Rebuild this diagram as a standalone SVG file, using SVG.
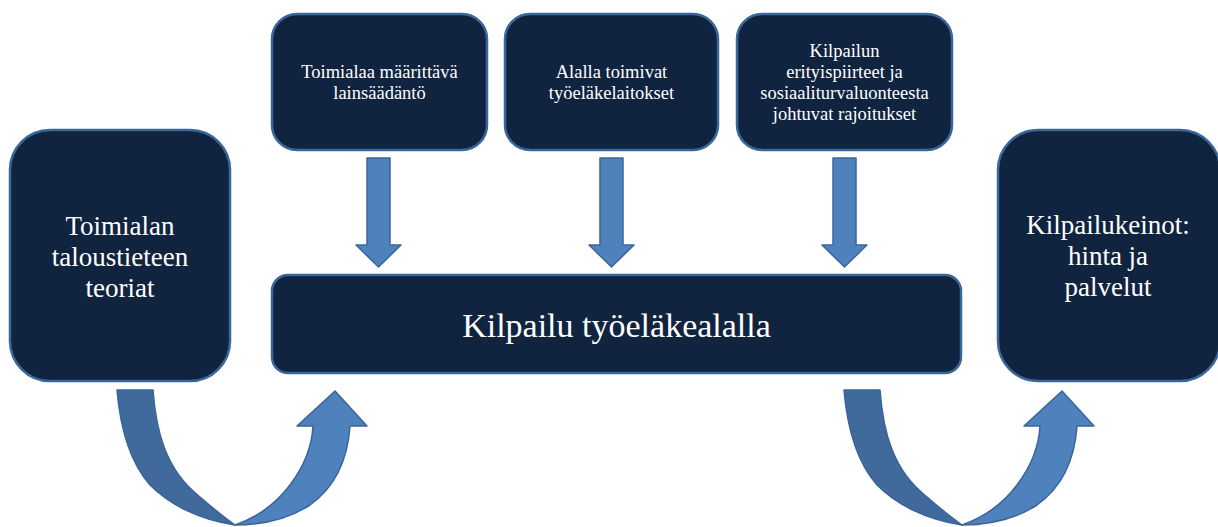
<svg xmlns="http://www.w3.org/2000/svg" width="1218" height="527" viewBox="0 0 1218 527" font-family="'Liberation Serif', serif">
<style>
.box{fill:#10243f;stroke:#3b6699;stroke-width:2.5}
text{font-family:"Liberation Serif",serif;fill:#ffffff;text-anchor:middle}
text.s{font-size:18.5px}
text.l{font-size:27px}
text.m{font-size:34px}
.arr{fill:#4f81bd;stroke:#3a659a;stroke-width:1.5;stroke-linejoin:round}
.dk{fill:#40699c;stroke:#3a659a;stroke-width:1.5;stroke-linejoin:round}
</style>
<defs>
<path id="down" d="M-11.5,0 H11.5 V87 H22.5 L0,109 L-22.5,87 H-11.5 Z"/>
<g id="uturn">
<path class="dk" d="M117,390 L153,390 C156,430 165,470 200,497 C215,510 225,518 235,525 C200,520 170,505 150,485 C128,460 120,425 117,390 Z"/>
<path class="arr" d="M235,525 C255,518 275,505 290,485 C305,465 312,445 313,426 L297,426 L335,391 L367,426 L350,426 C348,455 338,485 310,505 C290,518 265,525 235,525 Z"/>
</g>
</defs>
<g id="connectors">
<use href="#down" class="arr" x="378.5" y="158"/>
<use href="#down" class="arr" x="611.5" y="158"/>
<use href="#down" class="arr" x="844.5" y="158"/>
<use href="#uturn"/>
<use href="#uturn" x="727"/>
</g>
<g id="node-teoriat">
<rect class="box" x="10" y="130" width="220" height="251" rx="40"/>
<text class="l" x="120" y="235" font-family="'Liberation Serif', serif">Toimialan</text>
<text class="l" x="120" y="266" font-family="'Liberation Serif', serif">taloustieteen</text>
<text class="l" x="120" y="297" font-family="'Liberation Serif', serif">teoriat</text>
</g>
<g id="node-lainsaadanto">
<rect class="box" x="272" y="14" width="215" height="136" rx="25"/>
<text class="s" x="379.5" y="78" font-family="'Liberation Serif', serif">Toimialaa määrittävä</text>
<text class="s" x="379.5" y="99" font-family="'Liberation Serif', serif">lainsäädäntö</text>
</g>
<g id="node-laitokset">
<rect class="box" x="505" y="14" width="213" height="136" rx="25"/>
<text class="s" x="611.5" y="78" font-family="'Liberation Serif', serif">Alalla toimivat</text>
<text class="s" x="611.5" y="99" font-family="'Liberation Serif', serif">työeläkelaitokset</text>
</g>
<g id="node-rajoitukset">
<rect class="box" x="737" y="14" width="215" height="136" rx="25"/>
<text class="s" x="844.5" y="57" font-family="'Liberation Serif', serif">Kilpailun</text>
<text class="s" x="844.5" y="78" font-family="'Liberation Serif', serif">erityispiirteet ja</text>
<text class="s" x="844.5" y="99" font-family="'Liberation Serif', serif">sosiaaliturvaluonteesta</text>
<text class="s" x="844.5" y="120" font-family="'Liberation Serif', serif">johtuvat rajoitukset</text>
</g>
<g id="node-kilpailu">
<rect class="box" x="272" y="275" width="689" height="98" rx="16"/>
<text class="m" x="616.5" y="337" font-family="'Liberation Serif', serif">Kilpailu työeläkealalla</text>
</g>
<g id="node-keinot">
<rect class="box" x="998" y="130" width="222" height="251" rx="40"/>
<text class="l" x="1108" y="234" font-family="'Liberation Serif', serif">Kilpailukeinot:</text>
<text class="l" x="1108" y="265" font-family="'Liberation Serif', serif">hinta ja</text>
<text class="l" x="1108" y="296" font-family="'Liberation Serif', serif">palvelut</text>
</g>
</svg>
